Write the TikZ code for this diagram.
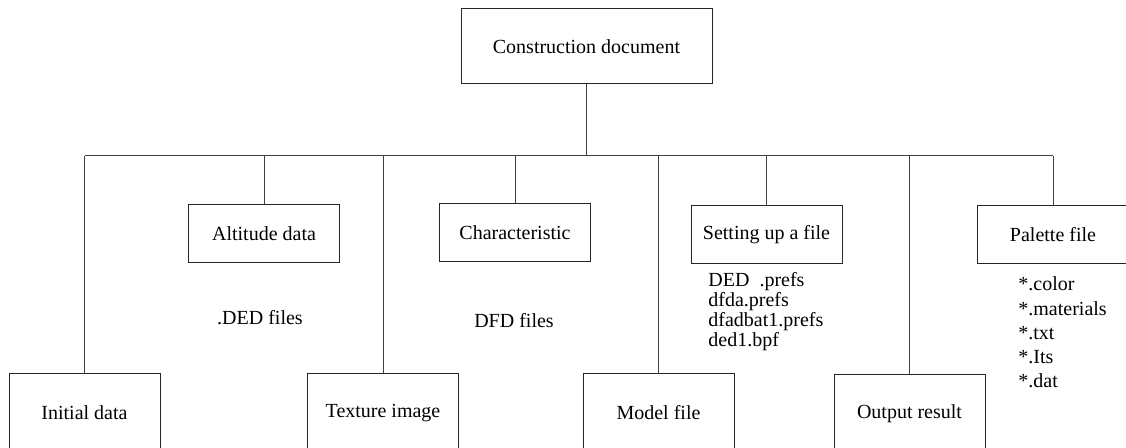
\documentclass[tikz,border=0pt]{standalone}
\usepackage{fontspec}
\setmainfont{Liberation Serif}

\tikzset{
  box/.style={draw=black!85, line width=0.5pt, minimum width=75.5pt, minimum height=29pt, inner sep=0pt},
  lowbox/.style={box, minimum height=39pt},
  link/.style={draw=black!75, line width=0.5pt},
  filelist/.style={align=left, anchor=west, inner sep=0pt}
}

\begin{document}
\begin{tikzpicture}[x=0.5pt,y=-0.5pt,font=\fontsize{10}{12}\selectfont]
\useasboundingbox (0,0) rectangle (1126,448);
\node [box, minimum width=125.5pt, minimum height=37.5pt] (cd) at (586.5,46.5) {Construction document};
\node [box] (alt) at (264,233.5) {Altitude data};
\node [box] (chr) at (515,233) {Characteristic};
\node [box] (set) at (766.5,235) {Setting up a file};
\node [box, minimum width=76pt] (pal) at (1053,234.5) {Palette file};
\node [lowbox] (init) at (84.5,413) {Initial data};
\node [lowbox] (tex) at (383,413) {Texture image};
\node [lowbox] (mod) at (658.5,413) {Model file};
\node [lowbox] (out) at (909.5,413.5) {Output result};
\node (dedf) at (260,318) {.DED files};
\node (dfdf) at (514,321) {DFD files};
\node [filelist, font=\fontsize{10}{10}\selectfont] (prefs) at (708,312) {DED\ \ .prefs\\dfda.prefs\\dfadbat1.prefs\\ded1.bpf};
\node [filelist, font=\fontsize{10}{12.1}\selectfont] (exts) at (1018,332.5) {*.color\\*.materials\\*.txt\\*.Its\\*.dat};
\coordinate (bus) at (0,156);
\draw [link] (init.north |- bus) -- (pal.north |- bus);
\draw [link] (cd.south) -- (cd.south |- bus);
\foreach \n in {alt,chr,set,pal,init,tex,mod,out}
  \draw [link] (\n.north) -- (\n.north |- bus);
\end{tikzpicture}
\end{document}
